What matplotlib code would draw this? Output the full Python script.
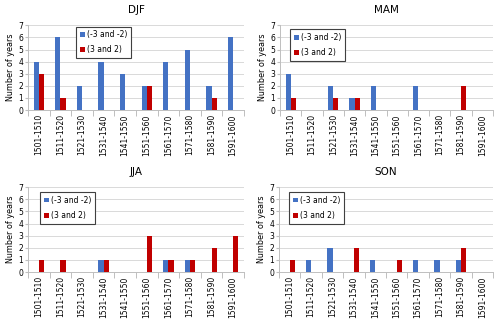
import numpy as np
import matplotlib.pyplot as plt

periods = ["1501-1510", "1511-1520", "1521-1530", "1531-1540", "1541-1550",
           "1551-1560", "1561-1570", "1571-1580", "1581-1590", "1591-1600"]

djf_neg = [4, 6, 2, 4, 3, 2, 4, 5, 2, 6]
djf_pos = [3, 1, 0, 0, 0, 2, 0, 0, 1, 0]
mam_neg = [3, 0, 2, 1, 2, 0, 2, 0, 0, 0]
mam_pos = [1, 0, 1, 1, 0, 0, 0, 0, 2, 0]
jja_neg = [0, 0, 0, 1, 0, 0, 1, 1, 0, 0]
jja_pos = [1, 1, 0, 1, 0, 3, 1, 1, 2, 3]
son_neg = [0, 1, 2, 0, 1, 0, 1, 1, 1, 0]
son_pos = [1, 0, 0, 2, 0, 1, 0, 0, 2, 0]

blue = "#4472C4"
red = "#C00000"

fig = plt.figure(figsize=(5, 3.2), dpi=100)

# title, series, axes rect, legend anchor
panels = [
    ("DJF", djf_neg, djf_pos, [0.056, 0.656, 0.432, 0.265], (0.205, 1.03)),
    ("MAM", mam_neg, mam_pos, [0.560, 0.656, 0.426, 0.265], (0.03, 1.0)),
    ("JJA", jja_neg, jja_pos, [0.056, 0.150, 0.432, 0.265], (0.04, 0.99)),
    ("SON", son_neg, son_pos, [0.558, 0.150, 0.428, 0.265], (0.03, 0.99)),
]

x = np.arange(len(periods))
w = 0.24

for title, neg, pos, rect, anchor in panels:
    ax = fig.add_axes(rect)
    ax.bar(x - w / 2, neg, width=w, color=blue, label="(-3 and -2)", zorder=3)
    ax.bar(x + w / 2, pos, width=w, color=red, label="(3 and 2)", zorder=3)
    ax.set_xlim(-0.5, len(periods) - 0.5)
    ax.set_ylim(0, 7)
    ax.set_yticks(range(8))
    ax.yaxis.grid(True, color="#d9d9d9", linewidth=0.7, zorder=0)
    ax.set_xticks(x)
    ax.set_xticklabels(periods, rotation=90, fontsize=5.5)
    ax.set_xticks(np.arange(-0.5, len(periods)), minor=True)
    ax.tick_params(axis="x", which="major", length=0, pad=3)
    ax.tick_params(axis="x", which="minor", length=4, color="#bfbfbf", width=0.7)
    ax.tick_params(axis="y", labelsize=5.5, length=2, color="#bfbfbf", pad=1.5)
    for s in ["top", "right"]:
        ax.spines[s].set_visible(False)
    for s in ["left", "bottom"]:
        ax.spines[s].set_color("#bfbfbf")
        ax.spines[s].set_linewidth(0.7)
    ax.set_ylabel("Number of years", fontsize=5.8, labelpad=2)
    ax.set_title(title, fontsize=7.5, pad=9)
    leg = ax.legend(loc="upper left", bbox_to_anchor=anchor, fontsize=5.5,
                    frameon=True, fancybox=False, handlelength=0.6, handleheight=0.6,
                    handletextpad=0.3, borderpad=0.5, labelspacing=0.8,
                    framealpha=1)
    leg.get_frame().set_edgecolor("#404040")
    leg.get_frame().set_linewidth(0.8)

fig.savefig("out.png", dpi=100)
